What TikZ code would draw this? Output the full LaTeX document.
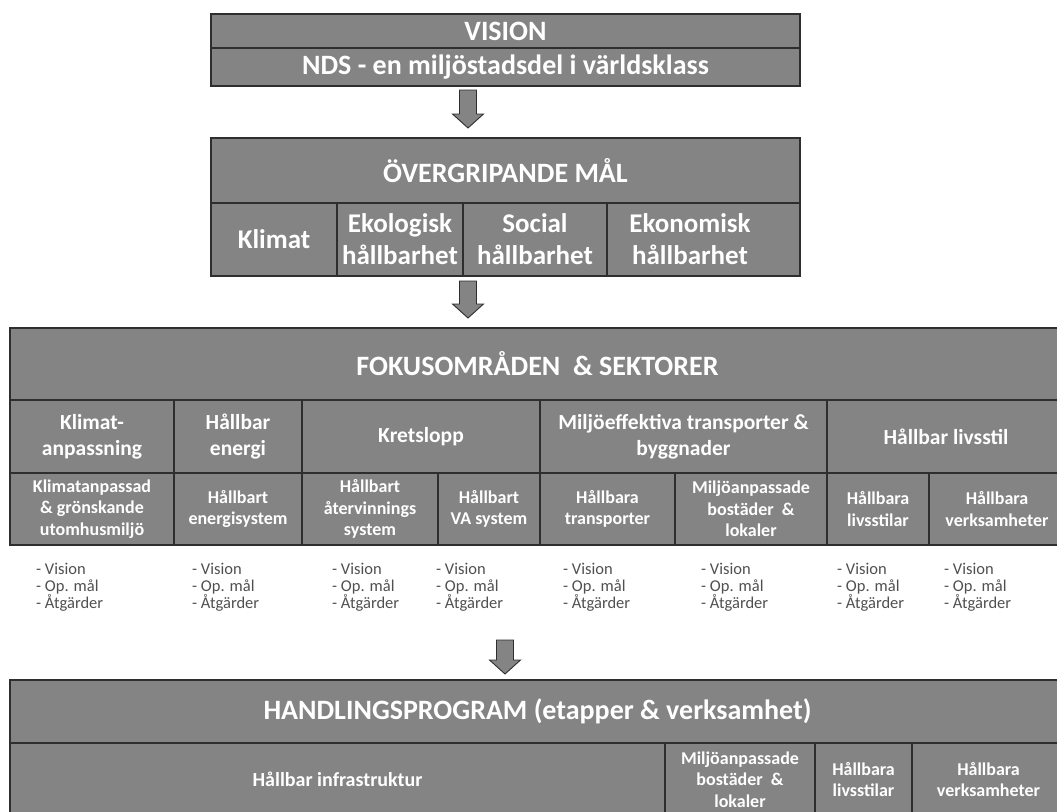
\documentclass[tikz,border=0pt]{standalone}
\usepackage{fontspec}
\setmainfont{Carlito}
\usetikzlibrary{calc}
\definecolor{boxgray}{HTML}{848484}
\definecolor{edgecol}{HTML}{2E2E2E}
\definecolor{bultext}{HTML}{505050}
\tikzset{
  cell/.style={draw=edgecol, line width=1.1pt, fill=boxgray, text=white, inner sep=0pt, align=center},
  celltext/.style={text=white, inner sep=0pt, align=center},
  ttl/.style={font=\fontsize{28}{32}\selectfont\bfseries},
  cbig/.style={font=\fontsize{27}{32}\selectfont\bfseries},
  crow/.style={font=\fontsize{21.5}{26}\selectfont\bfseries},
  cmid/.style={font=\fontsize{20}{24}\selectfont\bfseries},
  csub/.style={font=\fontsize{18}{21.5}\selectfont\bfseries},
  bul/.style={anchor=north west, align=left, text=bultext, inner sep=0pt, font=\fontsize{16.5}{16.5}\selectfont},
  blockarrow/.style={draw=edgecol, line width=0.9pt, fill=boxgray,
    to path={let \p1=(\tikztostart), \p2=(\tikztotarget) in
      (\x1-8.5pt,\y1) -- (\x1+8.5pt,\y1) -- (\x1+8.5pt,\y2+14pt) -- (\x1+15.5pt,\y2+14pt)
      -- (\x1,\y2) -- (\x1-15.5pt,\y2+14pt) -- (\x1-8.5pt,\y2+14pt) -- cycle}}
}
\newcommand\mkcell[7]{\node[cell,#7, minimum width={(#4-#2)*1pt}, minimum height={(#5-#3)*1pt}] (#1) at ({(#2+#4)/2},{(#3+#5)/2}) {#6};}
\begin{document}
\begin{tikzpicture}[x=1pt,y=-1pt]
\useasboundingbox[fill=white] (0,0) rectangle (1057,811);
\clip (0,0) rectangle (1057,811);
% VISION
\mkcell{vis}{211}{14}{800}{48}{VISION}{ttl}
\mkcell{nds}{211}{48}{800}{86}{NDS - en miljöstadsdel i världsklass}{ttl}
% arrow 1
\coordinate (a1s) at (468,90);
\coordinate (a1e) at (468,128);
\draw[blockarrow] (a1s) to (a1e);
% ÖVERGRIPANDE MÅL
\mkcell{ovm}{211}{138}{800}{203}{ÖVERGRIPANDE MÅL}{ttl}
\mkcell{gklim}{211}{203}{337}{276}{Klimat}{cbig}
\mkcell{geko}{337}{203}{463}{276}{Ekologisk\\hållbarhet}{cbig}
\mkcell{gsoc}{463}{203}{607}{276}{Social\\hållbarhet}{cbig}
\mkcell{gekon}{607}{203}{800}{276}{}{cbig}
\node[celltext,cbig] (gekont) at (690,239.5) {Ekonomisk\\hållbarhet};
% arrow 2
\coordinate (a2s) at (468,281);
\coordinate (a2e) at (468,318);
\draw[blockarrow] (a2s) to (a2e);
% FOKUSOMRÅDEN
\mkcell{fok}{10}{328}{1065}{400}{FOKUSOMRÅDEN\ \ \& SEKTORER}{ttl}
\mkcell{f1}{10}{400}{174}{473}{Klimat-\\anpassning}{crow}
\mkcell{f2}{174}{400}{302}{473}{Hållbar\\energi}{crow}
\mkcell{f3}{302}{400}{540}{473}{Kretslopp}{crow}
\mkcell{f4}{540}{400}{827}{473}{Miljöeffektiva transporter \&\\byggnader}{crow}
\mkcell{f5}{827}{400}{1065}{473}{Hållbar livsstil}{crow}
\mkcell{s1}{10}{473}{174}{545}{Klimatanpassad\\\& grönskande\\utomhusmiljö}{csub}
\mkcell{s2}{174}{473}{302}{545}{Hållbart\\energisystem}{csub}
\mkcell{s3}{302}{473}{438}{545}{Hållbart\\återvinnings\\system}{csub}
\mkcell{s4}{438}{473}{540}{545}{Hållbart\\VA system}{csub}
\mkcell{s5}{540}{473}{675}{545}{Hållbara\\transporter}{csub}
\mkcell{s6}{675}{473}{827}{545}{Miljöanpassade\\bostäder \ \&\\lokaler}{csub}
\mkcell{s7}{827}{473}{929}{545}{Hållbara\\livsstilar}{csub}
\mkcell{s8}{929}{473}{1065}{545}{Hållbara\\verksamheter}{csub}
% bullet lists
\foreach \bx [count=\i] in {36,192,332,436,563,701,837,944}{
  \node[bul] (b\i) at (\bx,563) {- Vision\\- Op. mål\\- Åtgärder};
}
% arrow 3
\coordinate (a3s) at (505,640);
\coordinate (a3e) at (505,674);
\draw[blockarrow] (a3s) to (a3e);
% HANDLINGSPROGRAM
\mkcell{hp}{10}{680}{1065}{743}{HANDLINGSPROGRAM (etapper \& verksamhet)}{ttl}
\mkcell{h1}{10}{743}{665}{816}{Hållbar infrastruktur}{cmid}
\mkcell{h2}{665}{743}{815}{816}{Miljöanpassade\\bostäder \ \&\\lokaler}{csub}
\mkcell{h3}{815}{743}{912}{816}{Hållbara\\livsstilar}{csub}
\mkcell{h4}{912}{743}{1065}{816}{Hållbara\\verksamheter}{csub}
\end{tikzpicture}
\end{document}
